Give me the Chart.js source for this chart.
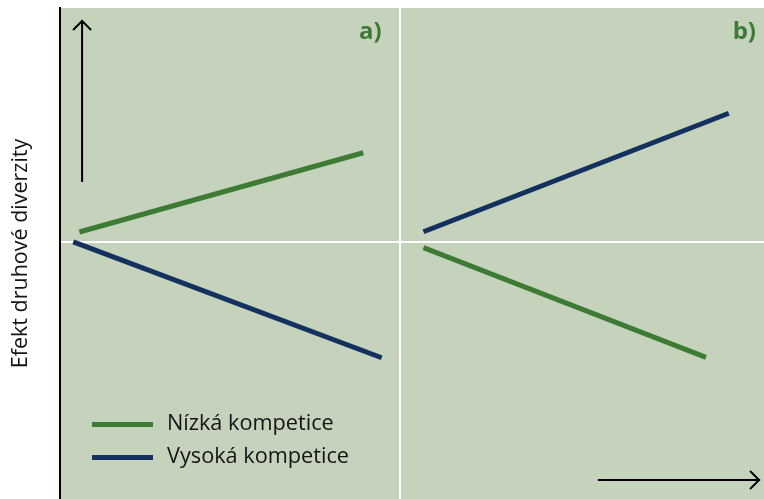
<!DOCTYPE html>
<html>
<head>
<meta charset="utf-8">
<script src="https://cdn.jsdelivr.net/npm/chart.js@4.4.1/dist/chart.umd.min.js"></script>
<style>
  html, body { margin: 0; padding: 0; background: #fff; }
  #wrap { width: 764px; height: 499px; }
</style>
</head>
<body>
<div id="wrap"><canvas id="chart"></canvas></div>
<script>
// panel a) and b), x in panel units (divider at 1), y effect (0 = no effect)
const seriesNames = ['Nízká kompetice', 'Vysoká kompetice'];
const seriesColors = ['#3d7b34', '#13305f'];

const panelAx = [0.057, 0.892];
const panelALow = [0.042, 0.381];
const panelAxHigh = [0.039, 0.946];
const panelAHigh = [0.000, -0.496];

const panelBx = [1.069, 1.900];
const panelBLow = [-0.025, -0.494];
const panelBxHigh = [1.069, 1.967];
const panelBHigh = [0.043, 0.550];

const panelLabels = ['a)', 'b)'];
const panelLabelX = [0.946, 2.047];
const panelLabelY = 0.895;

const yTitle = 'Efekt druhové diverzity';

const toPts = (xs, ys) => xs.map((x, i) => ({ x: x, y: ys[i] }));

const bg = '#c5d3bc';

// background, arrows, panel letters, legend
const decor = {
    id: 'decor',
    beforeDraw(chart) {
        const { ctx, chartArea: a } = chart;
        ctx.save();
        ctx.fillStyle = bg;
        ctx.fillRect(a.left, a.top, chart.width - a.left, chart.height - a.top);
        ctx.restore();
    },
    afterDraw(chart) {
        const { ctx } = chart;
        const xs = chart.scales.x, ys = chart.scales.y;
        ctx.save();

        // vertical arrow (effect up)
        let ax = xs.getPixelForValue(0.065);
        let y1 = ys.getPixelForValue(0.256), y2 = ys.getPixelForValue(0.949);
        ctx.strokeStyle = '#000';
        ctx.lineWidth = 2;
        ctx.beginPath();
        ctx.moveTo(ax, y1); ctx.lineTo(ax, y2);
        ctx.moveTo(ax - 9, y2 + 10); ctx.lineTo(ax, y2 + 1); ctx.lineTo(ax + 9, y2 + 10);
        ctx.stroke();

        // horizontal arrow
        let hy = ys.getPixelForValue(-1.019);
        let x1 = xs.getPixelForValue(1.582), x2 = xs.getPixelForValue(2.059);
        ctx.beginPath();
        ctx.moveTo(x1, hy); ctx.lineTo(x2, hy);
        ctx.moveTo(x2 - 10, hy - 9); ctx.lineTo(x2 - 1, hy); ctx.lineTo(x2 - 10, hy + 9);
        ctx.stroke();

        // panel letters
        ctx.fillStyle = seriesColors[0];
        ctx.font = 'bold 24px "Open Sans"';
        ctx.textAlign = 'right';
        ctx.textBaseline = 'middle';
        panelLabels.forEach((t, i) => {
            ctx.fillText(t, xs.getPixelForValue(panelLabelX[i]), ys.getPixelForValue(panelLabelY));
        });

        // legend
        ctx.font = '21.7px "Open Sans"';
        ctx.textAlign = 'left';
        ctx.textBaseline = 'middle';
        seriesNames.forEach((name, i) => {
            let ly = 424.5 + i * 33;
            ctx.strokeStyle = seriesColors[i];
            ctx.lineWidth = 5;
            ctx.beginPath();
            ctx.moveTo(92, ly); ctx.lineTo(153, ly);
            ctx.stroke();
            ctx.fillStyle = '#141414';
            ctx.fillText(name, 167, ly - 1);
        });
        ctx.restore();
    }
};

const lineDs = (label, data, color) => ({
    label: label,
    data: data,
    borderColor: color,
    borderWidth: 5,
    pointRadius: 0,
    fill: false,
    tension: 0
});

new Chart(document.getElementById('chart'), {
    type: 'line',
    data: {
        datasets: [
            lineDs(seriesNames[0], toPts(panelAx, panelALow), seriesColors[0]),
            lineDs(seriesNames[1], toPts(panelAxHigh, panelAHigh), seriesColors[1]),
            lineDs(seriesNames[0], toPts(panelBx, panelBLow), seriesColors[0]),
            lineDs(seriesNames[1], toPts(panelBxHigh, panelBHigh), seriesColors[1])
        ]
    },
    options: {
        responsive: true,
        maintainAspectRatio: false,
        animation: false,
        layout: { padding: { top: 8, left: 0, right: 0, bottom: 0 } },
        plugins: {
            legend: { display: false },
            tooltip: { enabled: false }
        },
        scales: {
            x: {
                type: 'linear',
                min: 0,
                max: 704 / 340,
                afterBuildTicks: (s) => { s.ticks = [{ value: 1 }]; },
                ticks: { display: false },
                grid: { color: '#ffffff', lineWidth: 2, drawTicks: false },
                border: { display: false },
                afterFit: (s) => { s.height = 0; }
            },
            y: {
                min: -1.1,
                max: 1,
                afterBuildTicks: (s) => { s.ticks = [{ value: 0 }]; },
                ticks: { display: false },
                grid: { color: '#ffffff', lineWidth: 2, drawTicks: false },
                border: { display: true, color: '#000', width: 2 },
                title: {
                    display: true,
                    text: yTitle,
                    color: '#141414',
                    font: { family: '"Open Sans"', size: 21.5 },
                    padding: { top: 8, bottom: 0 }
                },
                afterFit: (s) => { s.width = 60; }
            }
        }
    },
    plugins: [decor]
});
</script>
</body>
</html>
